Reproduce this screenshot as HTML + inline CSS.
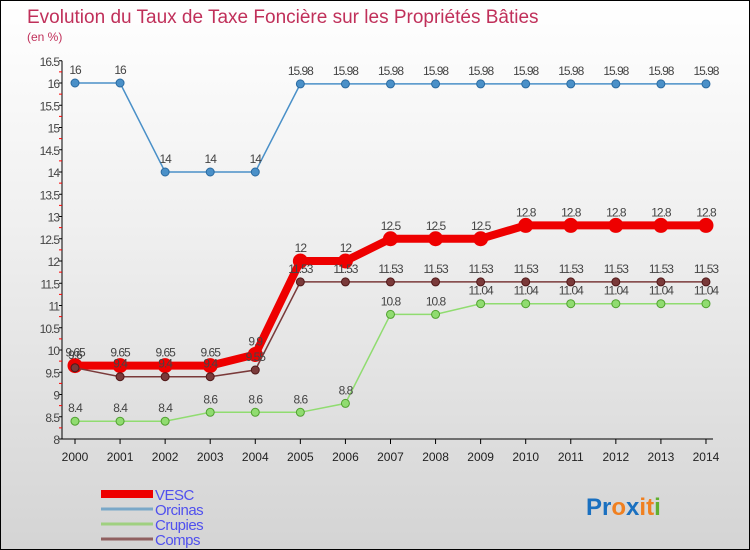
<!DOCTYPE html>
<html><head><meta charset="utf-8"><style>
body{margin:0}
#wrap{width:748px;height:548px;border:1px solid #000;background:linear-gradient(#fff 0%,#f0f0f0 40%,#d4d4d4 100%);position:relative;font-family:"Liberation Sans",sans-serif;overflow:hidden}
</style></head><body>
<div id="wrap">
<svg id="svg" width="748" height="548"></svg>
</div>
<script>
const years=[2000,2001,2002,2003,2004,2005,2006,2007,2008,2009,2010,2011,2012,2013,2014];
const vesc=[9.65,9.65,9.65,9.65,9.9,12,12,12.5,12.5,12.5,12.8,12.8,12.8,12.8,12.8];
const orcinas=[16,16,14,14,14,15.98,15.98,15.98,15.98,15.98,15.98,15.98,15.98,15.98,15.98];
const crupies=[8.4,8.4,8.4,8.6,8.6,8.6,8.8,10.8,10.8,11.04,11.04,11.04,11.04,11.04,11.04];
const comps=[9.6,9.4,9.4,9.4,9.55,11.53,11.53,11.53,11.53,11.53,11.53,11.53,11.53,11.53,11.53];
const yTicks=[8,8.5,9,9.5,10,10.5,11,11.5,12,12.5,13,13.5,14,14.5,15,15.5,16,16.5];
const NS="http://www.w3.org/2000/svg";
const svg=document.getElementById('svg');
const x=i=>74+i*45.07;
const y=v=>438-(v-8)*44.5;
function el(t,a,p){const e=document.createElementNS(NS,t);for(const k in a)e.setAttribute(k,a[k]);(p||svg).appendChild(e);return e;}
function txt(s,a){const e=el('text',a);e.textContent=s;return e;}
let t=txt('Evolution du Taux de Taxe Foncière sur les Propriétés Bâties',{x:26,y:22,'font-size':19,fill:'#c0305a'});

t=txt('(en %)',{x:26,y:40,'font-size':12,fill:'#c0305a'});

let a=el('line',{x1:61,y1:y(16.5),x2:61,y2:y(8),stroke:'#000'});

a=el('line',{x1:61,y1:y(8),x2:712,y2:y(8),stroke:'#000'});

yTicks.forEach((v,i)=>{el('line',{x1:58,y1:y(v),x2:61,y2:y(v),stroke:'#000'});
 if(i<yTicks.length-1)el('line',{x1:58,y1:y(v+0.25),x2:61,y2:y(v+0.25),stroke:'#f00'});
 const l=txt(String(v),{x:58,y:y(v)+5,'font-size':12,'text-anchor':'end',fill:'#444','letter-spacing':'-1'});
 });
years.forEach((yr,i)=>{el('line',{x1:x(i),y1:y(8),x2:x(i),y2:y(8)+5,stroke:'#000'});
 const l=txt(String(yr),{x:x(i),y:y(8)+22,'font-size':12,'text-anchor':'middle',fill:'#222'});
 });
function series(vals,col,w,r,name,dark){
 const g=el('g',{});
 const p=el('polyline',{points:vals.map((v,i)=>x(i)+','+y(v)).join(' '),fill:'none',stroke:col,'stroke-width':w},g);
 
 vals.forEach((v,i)=>{const c=el('circle',{cx:x(i),cy:y(v),r:r,fill:col,stroke:dark,'stroke-width':1},g);
  
  const l=txt(String(v),{x:x(i),y:y(v)-9,'font-size':12,'text-anchor':'middle',fill:'#444','letter-spacing':'-1'});
  });
}
series(orcinas,'#4a90c8',1.5,4,'orcinas','#2a6aa0');
series(crupies,'#90dc70',1.5,4,'crupies','#50a030');
series(vesc,'#ee0000',8,7,'vesc','#ee0000');
series(comps,'#7a3a3a',1.5,4,'comps','#501818');
const leg=[['VESC','#ee0000',8],['Orcinas','#7aa8c8',3],['Crupies','#a0d080',3],['Comps','#906060',3]];
leg.forEach((d,i)=>{const g=el('g',{});
 const yy=493+i*15;el('line',{x1:100,y1:yy,x2:152,y2:yy,stroke:d[1],'stroke-width':d[2]},g);
 const l=el('text',{x:154,y:yy+6,'font-size':15,fill:'#5050ee','letter-spacing':'-0.5'},g);l.textContent=d[0];});
const lg=el('text',{x:585,y:514,'font-size':24,'font-weight':'bold'});

[['P','#1a70c0'],['r','#1a70c0'],['o','#f08020'],['x','#1a70c0'],['i','#f08020'],['t','#f08020'],['i','#60b030']].forEach(c=>{const s=el('tspan',{fill:c[1]},lg);s.textContent=c[0];});
</script>
</body></html>
